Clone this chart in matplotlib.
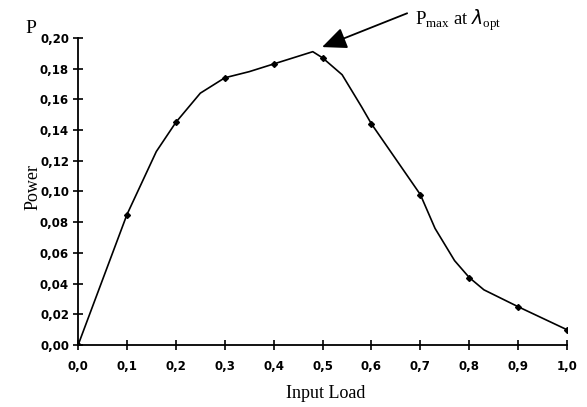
import matplotlib
matplotlib.use("Agg")
import matplotlib.pyplot as plt

# measured points (markers)
load = [0.0, 0.1, 0.2, 0.3, 0.4, 0.5, 0.6, 0.7, 0.8, 0.9, 1.0]
power = [0.0, 0.085, 0.145, 0.174, 0.183, 0.187, 0.144, 0.098, 0.044, 0.025, 0.010]

# curve as drawn
curve_x = [0.0, 0.1, 0.16, 0.2, 0.25, 0.3, 0.35, 0.4, 0.44, 0.48, 0.5,
           0.54, 0.58, 0.6, 0.65, 0.7, 0.73, 0.77, 0.8, 0.83, 0.9, 1.0]
curve_y = [0.0, 0.085, 0.126, 0.145, 0.164, 0.174, 0.178, 0.183, 0.187, 0.191, 0.187,
           0.176, 0.155, 0.144, 0.121, 0.098, 0.076, 0.055, 0.044, 0.036, 0.025, 0.010]

xticks = [0.0, 0.1, 0.2, 0.3, 0.4, 0.5, 0.6, 0.7, 0.8, 0.9, 1.0]
yticks = [0.00, 0.02, 0.04, 0.06, 0.08, 0.10, 0.12, 0.14, 0.16, 0.18, 0.20]

fig = plt.figure(figsize=(5.87, 4.07), dpi=100)
ax = fig.add_axes([0.133, 0.152, 0.833, 0.755])

ax.plot(curve_x, curve_y, color="black", lw=1.2)
ax.plot(load, power, "D", color="black", ms=3)

ax.set_xlim(0, 1.0)
ax.set_ylim(0, 0.20)
ax.spines["top"].set_visible(False)
ax.spines["right"].set_visible(False)
ax.spines["left"].set_linewidth(1.3)
ax.spines["bottom"].set_linewidth(1.3)

ax.set_xticks(xticks)
ax.set_xticklabels([("%.1f" % v).replace(".", ",") for v in xticks])
ax.set_yticks(yticks)
ax.set_yticklabels([("%.2f" % v).replace(".", ",") for v in yticks])
ax.tick_params(direction="inout", length=7, width=1.2, labelsize=8.5)
for lab in ax.get_xticklabels() + ax.get_yticklabels():
    lab.set_fontweight("bold")
    lab.set_family("DejaVu Sans")
ax.tick_params(axis="x", pad=7)
ax.tick_params(axis="y", pad=3)

serif = "Liberation Serif"
fig.text(0.056, 0.54, "Power", rotation=90, fontsize=13, family=serif,
         ha="center", va="center")
fig.text(0.554, 0.034, "Input Load", fontsize=13, family=serif,
         ha="center", va="center")
fig.text(0.053, 0.931, "P", fontsize=14, family=serif, ha="center", va="center")

# arrow and label for the maximum
ax.annotate("", xy=(0.499, 0.194), xytext=(0.673, 0.216), annotation_clip=False,
            arrowprops=dict(arrowstyle="-|>,head_length=0.5,head_width=0.22",
                            color="black", lw=1.3, mutation_scale=30,
                            shrinkA=0, shrinkB=0))
ax.text(0.689, 0.2117, r"P$_{\mathregular{max}}$ at $\lambda_{\mathregular{opt}}$",
        fontsize=13.5, family=serif, va="center", ha="left", clip_on=False)

fig.savefig("out.png", dpi=100)
